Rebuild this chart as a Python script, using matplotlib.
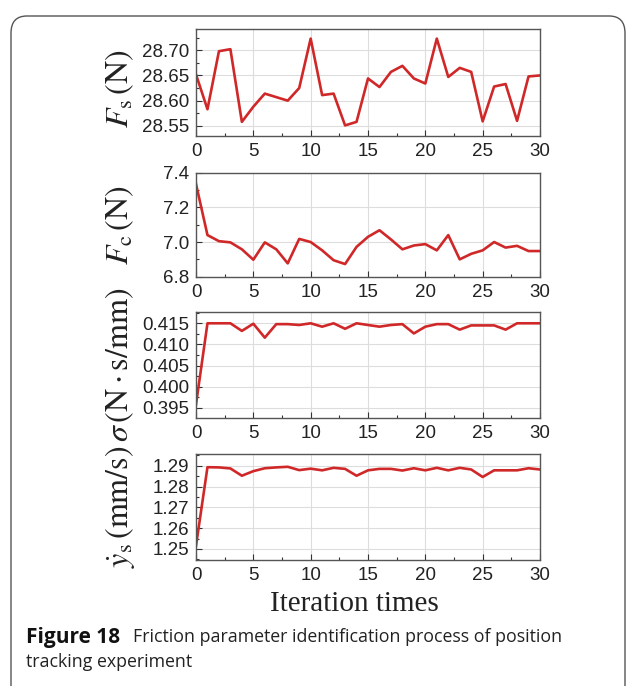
import matplotlib
matplotlib.use("Agg")
import matplotlib.pyplot as plt
from matplotlib.patches import FancyBboxPatch

# Datos
iteraciones = list(range(31))

fs = [28.652, 28.583, 28.698, 28.702, 28.558, 28.588, 28.614, 28.607, 28.600, 28.625,
      28.723, 28.611, 28.614, 28.551, 28.558, 28.644, 28.627, 28.657, 28.669, 28.644,
      28.634, 28.723, 28.647, 28.665, 28.657, 28.559, 28.628, 28.633, 28.560, 28.648,
      28.650]

fc = [7.335, 7.040, 7.005, 6.998, 6.958, 6.898, 6.998, 6.958, 6.877, 7.018,
      7.000, 6.952, 6.895, 6.873, 6.972, 7.030, 7.068, 7.015, 6.958, 6.980,
      6.988, 6.952, 7.040, 6.900, 6.932, 6.952, 7.000, 6.968, 6.978, 6.948,
      6.948]

sigma = [0.3958, 0.4150, 0.4150, 0.4150, 0.4132, 0.4149, 0.4116, 0.4148, 0.4148, 0.4146,
         0.4150, 0.4142, 0.4150, 0.4137, 0.4150, 0.4146, 0.4142, 0.4146, 0.4148, 0.4126,
         0.4142, 0.4148, 0.4148, 0.4135, 0.4145, 0.4145, 0.4145, 0.4135, 0.4150, 0.4150,
         0.4150]

ys = [1.2515, 1.2893, 1.2892, 1.2887, 1.2852, 1.2874, 1.2888, 1.2892, 1.2895, 1.2879,
      1.2886, 1.2878, 1.2890, 1.2885, 1.2852, 1.2878, 1.2885, 1.2885, 1.2877, 1.2888,
      1.2878, 1.2890, 1.2878, 1.2890, 1.2882, 1.2846, 1.2878, 1.2878, 1.2878, 1.2888,
      1.2882]

series = [fs, fc, sigma, ys]
etiquetas = [r'$F_{\mathrm{s}}\,\left(\mathrm{N}\right)$',
             r'$F_{\mathrm{c}}\,\left(\mathrm{N}\right)$',
             r'$\sigma\,\left(\mathrm{N\cdot s/mm}\right)$',
             r'$\dot{y}_{\mathrm{s}}\,\left(\mathrm{mm/s}\right)$']
yticks = [[28.55, 28.60, 28.65, 28.70],
          [6.8, 7.0, 7.2, 7.4],
          [0.395, 0.400, 0.405, 0.410, 0.415],
          [1.25, 1.26, 1.27, 1.28, 1.29]]
ytick_fmt = ['%.2f', '%.1f', '%.3f', '%.2f']
ylims = [(28.530, 28.742), (6.8, 7.4), (0.3926, 0.4176), (1.2447, 1.2955)]
minor_y = [0.025, 0.1, 0.0025, 0.005]

plt.rcParams['mathtext.fontset'] = 'stix'
plt.rcParams['font.family'] = ['Liberation Sans', 'DejaVu Sans']

W, H = 635, 686
fig = plt.figure(figsize=(W / 100, H / 100), dpi=100)

# marco redondeado
marco = FancyBboxPatch((11 / W, -20 / H), 614 / W, 690 / H,
                       boxstyle="round,pad=0,rounding_size=0.025",
                       transform=fig.transFigure, fill=False,
                       edgecolor='#555555', linewidth=1.0)
fig.patches.append(marco)

# posiciones de los paneles (top, bottom en pixeles)
paneles = [(29, 136), (172.7, 276.7), (312.3, 418), (454.3, 560)]
desplaz = [6, 0, 0, 0]  # ajuste vertical de las etiquetas
izq, der = 196, 540

for i in range(4):
    top, bot = paneles[i]
    ax = fig.add_axes([izq / W, 1 - bot / H, (der - izq) / W, (bot - top) / H])
    ax.plot(iteraciones, series[i], color='#d02828', linewidth=1.9)
    ax.set_xlim(0, 30)
    ax.set_ylim(*ylims[i])
    ax.set_xticks([0, 5, 10, 15, 20, 25, 30])
    ax.set_xticks([2.5, 7.5, 12.5, 17.5, 22.5, 27.5], minor=True)
    ax.set_yticks(yticks[i])
    ax.set_yticklabels([ytick_fmt[i] % v for v in yticks[i]])
    ax.yaxis.set_minor_locator(matplotlib.ticker.MultipleLocator(minor_y[i]))
    ax.grid(True, which='major', color='#dddddd', linewidth=0.8)
    ax.tick_params(which='both', direction='in', labelsize=13.5, colors='#333333',
                   labelcolor='#222222', top=False, right=False)
    ax.tick_params(which='major', length=4, width=0.8, pad=5)
    ax.tick_params(which='minor', length=2.5, width=0.8)
    for s in ax.spines.values():
        s.set_color('#555555')
        s.set_linewidth(1.0)
    fig.text(120 / W, 1 - ((top + bot) / 2 + desplaz[i]) / H, etiquetas[i], rotation=90,
             ha='center', va='center', fontsize=23, color='#222222')

fig.text(354 / W, 1 - 604 / H, 'Iteration times', ha='center', va='center',
         fontsize=21, family='Liberation Serif', color='#222222')

# pie de figura
fig.text(26 / W, 1 - 637 / H, 'Figure 18', ha='left', va='center', fontsize=15,
         family='Open Sans', weight='bold', color='#111111')
fig.text(133 / W, 1 - 637 / H, 'Friction parameter identification process of position',
         ha='left', va='center', fontsize=12.8, family='Open Sans', color='#222222')
fig.text(26 / W, 1 - 662 / H, 'tracking experiment', ha='left', va='center',
         fontsize=12.8, family='Open Sans', color='#222222')

fig.savefig('out.png', dpi=100)
